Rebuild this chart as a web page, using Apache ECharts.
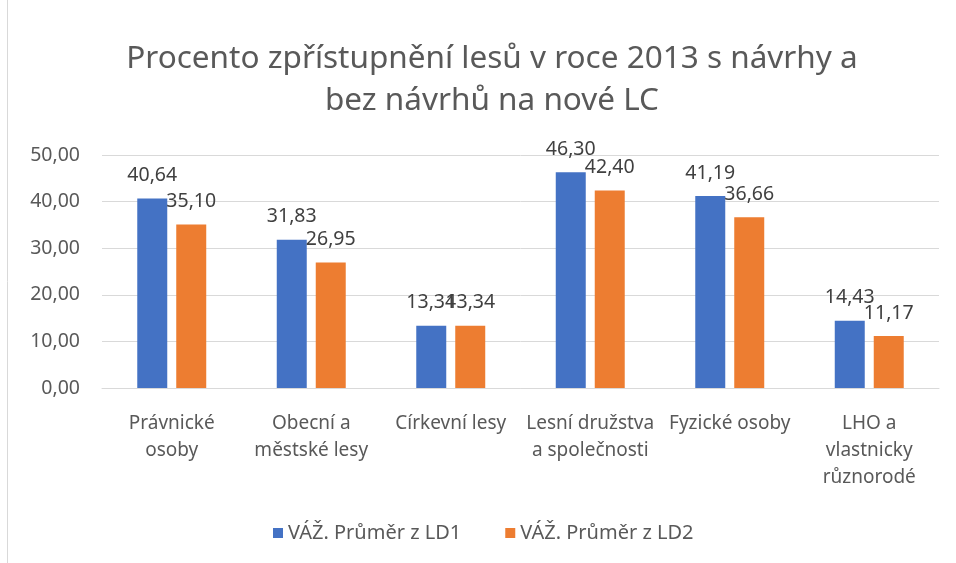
<!DOCTYPE html>
<html>
<head>
<meta charset="utf-8">
<script src="https://cdn.jsdelivr.net/npm/echarts@6/dist/echarts.min.js"></script>
<style>
  html, body { margin: 0; padding: 0; background: #ffffff; }
  #chart { width: 956px; height: 563px; }
</style>
</head>
<body>
<div id="chart"></div>
<script>
  // kategorie a hodnoty
  const categories = ['Právnické\nosoby', 'Obecní a\nměstské lesy', 'Církevní lesy', 'Lesní družstva\na společnosti', 'Fyzické osoby', 'LHO a\nvlastnicky\nrůznorodé']
  const ld1 = [40.64, 31.83, 13.34, 46.30, 41.19, 14.43]
  const ld2 = [35.10, 26.95, 13.34, 42.40, 36.66, 11.17]
  const seriesNames = ['VÁŽ. Průměr z LD1', 'VÁŽ. Průměr z LD2']

  const font = '"Noto Sans", sans-serif'
  const fmt = v => Number(v).toFixed(2).replace('.', ',')

  const chart = echarts.init(document.getElementById('chart'))
  const option = {
    textStyle: { fontFamily: font },
    title: {
      text: 'Procento zpřístupnění lesů v roce 2013 s návrhy a\nbez návrhů na nové LC',
      left: 487,
      textAlign: 'center',
      top: 33,
      textStyle: { color: '#595959', fontSize: 31.5, fontWeight: 'normal', fontFamily: font, lineHeight: 42 }
    },
    legend: {
      top: 518,
      left: 268,
      itemWidth: 10,
      itemHeight: 10,
      itemGap: 44,
      icon: 'rect',
      textStyle: { color: '#595959', fontSize: 20, fontFamily: font }
    },
    grid: { left: 102, right: 17, top: 155, bottom: 175 },
    xAxis: {
      type: 'category',
      data: categories,
      axisLine: { lineStyle: { color: '#d9d9d9', width: 1 } },
      axisTick: { show: false },
      axisLabel: { color: '#595959', fontSize: 19, lineHeight: 27, margin: 22, interval: 0 }
    },
    yAxis: {
      type: 'value',
      min: 0,
      max: 50,
      interval: 10,
      axisLine: { show: false },
      axisTick: { show: false },
      splitLine: { lineStyle: { color: '#d9d9d9', width: 1 } },
      axisLabel: { color: '#595959', fontSize: 19.5, margin: 22, formatter: fmt }
    },
    series: [
      {
        name: seriesNames[0],
        type: 'bar',
        data: ld1,
        barWidth: '21.5%',
        barGap: '30%',
        itemStyle: { color: '#4472c4' },
        label: { show: true, position: 'top', distance: 13, color: '#404040', fontSize: 19.5, fontFamily: font, formatter: p => fmt(p.value) }
      },
      {
        name: seriesNames[1],
        type: 'bar',
        data: ld2,
        barWidth: '21.5%',
        itemStyle: { color: '#ed7d31' },
        label: { show: true, position: 'top', distance: 13, color: '#404040', fontSize: 19.5, fontFamily: font, formatter: p => fmt(p.value) }
      }
    ],
    graphic: [
      { type: 'line', shape: { x1: 7.5, y1: 0, x2: 7.5, y2: 563 }, style: { stroke: '#d9d9d9', lineWidth: 1 } }
    ]
  }
  chart.setOption(option)
</script>
</body>
</html>
